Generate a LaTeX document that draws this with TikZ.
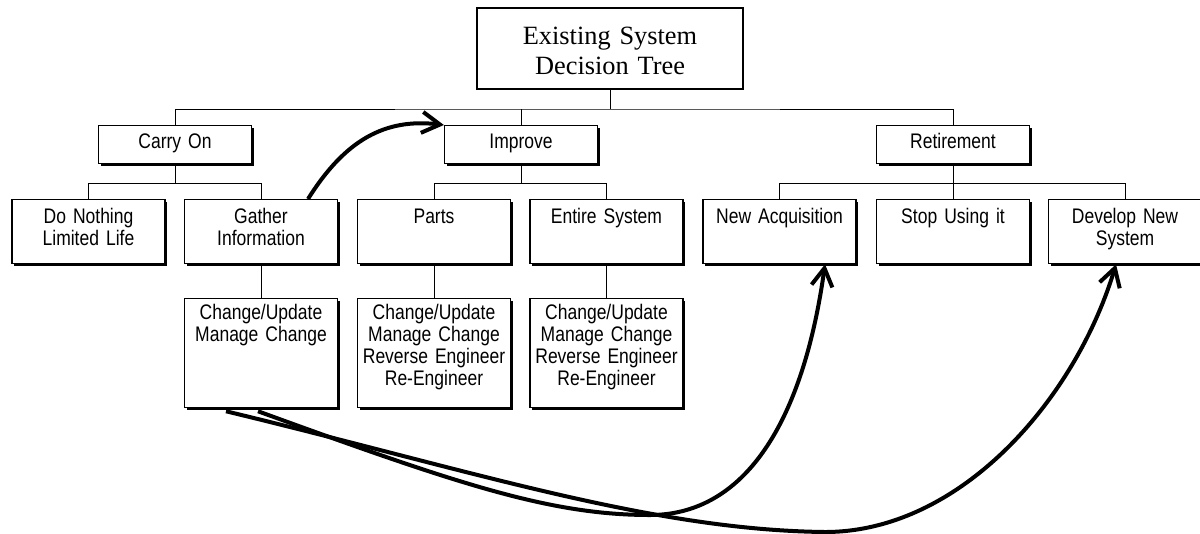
\documentclass[tikz,border=0pt]{standalone}
\usepackage{fontspec}
\setmainfont{Liberation Serif}
\newfontfamily\boxfont{Liberation Sans}[FakeStretch=0.83, WordSpace=0.75]
\usetikzlibrary{shadows,arrows.meta}

\begin{document}
\begin{tikzpicture}[x=0.2mm, y=-0.2mm,
    rootbox/.style={draw, line width=0.4mm, anchor=north, inner sep=0pt, text width=53.2mm,
      align=center, font=\fontsize{15}{17.6}\selectfont, text height=7.2mm, text depth=9mm},
    box/.style={draw, line width=0.25mm, fill=white, anchor=north, inner sep=0pt,
      text width=30.6mm, align=center, font=\boxfont\fontsize{12}{12.4}\selectfont,
      drop shadow={shadow xshift=0.4mm, shadow yshift=-0.4mm, fill=black, opacity=1}},
    optbox/.style={box, text height=4.6mm, text depth=3mm},
    choicebox/.style={box, text height=4.8mm, text depth=8mm},
    stepbox/.style={box, text height=4.2mm, text depth=17.6mm},
    tline/.style={line width=0.2mm},
    jump/.style={line width=0.8mm, -{Straight Barb[length=3.6mm,width=4.2mm]}}]
    \useasboundingbox (0,0) rectangle (1200,533);
    \clip (0,0) rectangle (1200,533);

    % tree
    \node[rootbox] (root) at (610,7) {Existing System\\Decision Tree};

    \node[optbox] (carry) at (175,125) {Carry On};
    \node[optbox] (improve) at (521,125) {Improve};
    \node[optbox] (retire) at (953,125) {Retirement};

    \node[choicebox] (nothing) at (88.5,199) {Do Nothing\\Limited Life};
    \node[choicebox] (gather) at (261,199) {Gather\\Information};
    \node[choicebox] (parts) at (434,199) {Parts};
    \node[choicebox] (entire) at (606.5,199) {Entire System};
    \node[choicebox] (acquire) at (779.5,199) {New Acquisition};
    \node[choicebox] (stop) at (953,199) {Stop Using it};
    \node[choicebox] (develop) at (1125,199) {Develop New\\System};

    \node[stepbox] (gatherstep) at (261,298) {Change/Update\\Manage Change};
    \node[stepbox] (partsstep) at (434,298) {Change/Update\\Manage Change\\Reverse Engineer\\Re-Engineer};
    \node[stepbox] (entirestep) at (606.5,298) {Change/Update\\Manage Change\\Reverse Engineer\\Re-Engineer};

    % branches
    \draw[tline] (root.south) -- ++(0,19) coordinate (t);
    \draw[tline] (carry.north) |- (t) -| (retire.north);
    \draw[tline] (improve.north) -- (improve.north |- t);

    \draw[tline] (carry.south) -- ++(0,19) coordinate (c);
    \draw[tline] (nothing.north) |- (c) -| (gather.north);
    \draw[tline] (improve.south) -- ++(0,19) coordinate (i);
    \draw[tline] (parts.north) |- (i) -| (entire.north);
    \draw[tline] (retire.south) -- ++(0,19) coordinate (r);
    \draw[tline] (acquire.north) |- (r) -| (develop.north);
    \draw[tline] (r) -- (stop.north);

    \draw[tline] (gather.south) -- (gatherstep.north);
    \draw[tline] (parts.south) -- (partsstep.north);
    \draw[tline] (entire.south) -- (entirestep.north);

    % jumps between branches
    \draw[jump] ([xshift=9.4mm]gather.north) .. controls (345,140) and (385,118) .. (improve.north west);
    \draw[jump] ([xshift=-0.6mm,yshift=-0.6mm]gatherstep.south) .. controls (458,484) and (550,515) .. (650,515)
        .. controls (745,515) and (803,422) .. ([xshift=9.1mm]acquire.south);
    \draw[jump] ([xshift=-7mm,yshift=-0.6mm]gatherstep.south) .. controls (470,470) and (650,530) .. (825,532)
        .. controls (960,532) and (1075,400) .. ([xshift=-1.8mm]develop.south);
\end{tikzpicture}
\end{document}
